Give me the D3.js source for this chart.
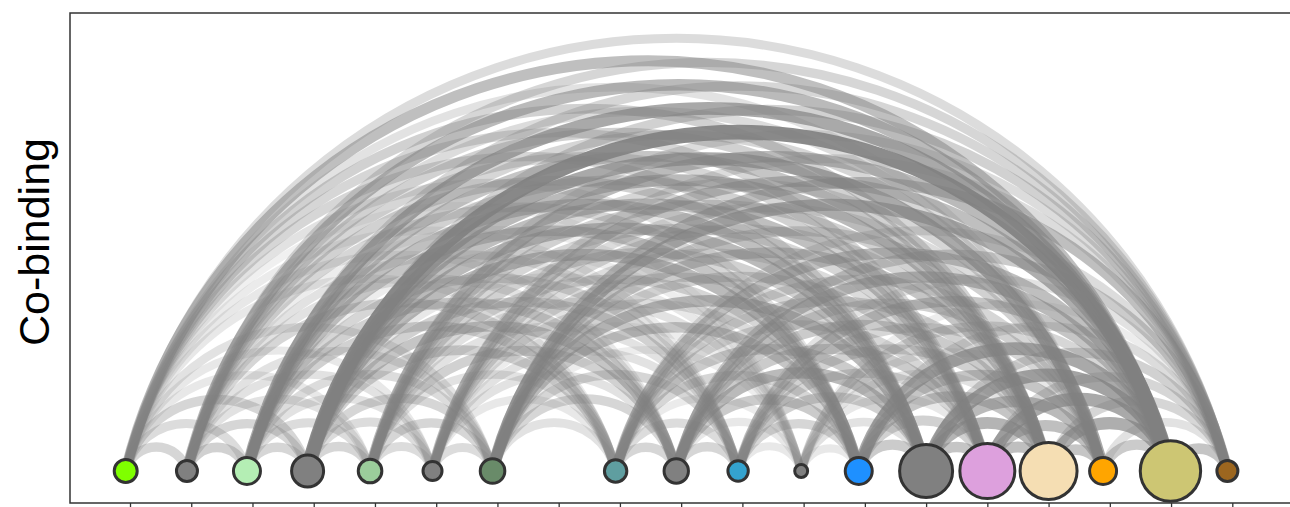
<!DOCTYPE html>
<html>
<head>
<meta charset="utf-8">
<script src="https://cdn.jsdelivr.net/npm/d3@7"></script>
<style>
  body { margin: 0; background: #fff; }
  svg { display: block; }
  .ylabel { font-family: "Liberation Sans", Arial, sans-serif; font-size: 43px; fill: #000; }
</style>
</head>
<body>
<svg id="chart"></svg>
<script>
// node positions (x in axis units), peak counts and colours
const nodePos = [-0.07, 0.93, 1.91, 2.9, 3.92, 4.94, 5.92, 7.93, 8.92, 9.93, 10.96, 11.9, 13.0, 14.0, 15.0, 15.89, 16.99, 17.92];
const nodeCount = [1450, 1210, 2000, 2810, 1530, 990, 1660, 1380, 1630, 1140, 460, 2000, 7700, 8290, 8900, 2000, 10000, 1210];
const nodeColor = ["#7fff00", "#808080", "#b4eeb4", "#808080", "#9bcd9b", "#808080", "#698b69", "#5f9ea0", "#808080",
  "#34a3cf", "#808080", "#1e90ff", "#808080", "#dda0dd", "#f5deb3", "#ffa500", "#cdc673", "#9c661f"];
const tickValues = d3.range(0, 19);

// co-binding strength, one row per source node (targets are the following nodes)
const coBinding = [
  [.30, .25, .30, .15, .15, .20, .15, .15, .12, .08, .20, .30, .30, .35, .20, .50, .25],
  [.35, .30, .20, .20, .20, .30, .20, .20, .10, .30, .35, .30, .35, .25, .55, .30],
  [.30, .25, .20, .25, .35, .35, .30, .10, .45, .50, .35, .45, .30, .70, .30],
  [.30, .25, .30, .35, .45, .35, .15, .55, .55, .50, .55, .70, .95, .35],
  [.25, .30, .20, .35, .20, .20, .30, .35, .30, .35, .30, .55, .25],
  [.25, .15, .20, .20, .10, .25, .30, .25, .30, .25, .50, .25],
  [.20, .30, .30, .10, .45, .55, .35, .45, .35, .65, .50],
  [.30, .25, .12, .30, .40, .30, .35, .30, .50, .25],
  [.30, .15, .40, .55, .40, .40, .35, .55, .40],
  [.15, .30, .35, .30, .35, .30, .45, .20],
  [.15, .20, .15, .20, .15, .30, .10],
  [.40, .35, .45, .45, .70, .25],
  [.45, .60, .55, .75, .35],
  [.50, .50, .70, .30],
  [.45, .65, .30],
  [.40, .20],
  [.45]
];

const W = 1290, H = 507;
const svg = d3.select('#chart').attr('width', W).attr('height', H);

const x = d3.scaleLinear().domain([0, 18]).range([130, 1232.3]);
// arc height in axis units per unit of half-span
const y = d3.scaleLinear().domain([0, 9]).range([471, 471 - 9 * 48.1]);
const r = d3.scaleSqrt().domain([0, 10000]).range([0, 30.2]);
const lw = d3.scaleLinear().domain([0, 1]).range([7, 15]);
const op = d3.scaleLinear().domain([0, 1]).range([0.05, 0.95]);

const links = [];
coBinding.forEach((row, i) => {
  row.forEach((v, k) => links.push({source: i, target: i + 1 + k, value: v}));
});
links.sort((a, b) => a.value - b.value);

// circular arc through both nodes with a sagitta taken from the y scale
function arcPath(d){
  const x1 = x(nodePos[d.source]), x2 = x(nodePos[d.target]);
  const half = (nodePos[d.target] - nodePos[d.source]) / 2;
  const a = (x2 - x1) / 2;
  const h = y(0) - y(half);
  const R = (a * a + h * h) / (2 * h);
  return `M${x1},${y(0)} A${R},${R} 0 0 1 ${x2},${y(0)}`;
}

// frame
svg.append('rect')
  .attr('x', 70).attr('y', 13)
  .attr('width', 1230).attr('height', 490)
  .attr('fill', 'none').attr('stroke', '#333').attr('stroke-width', 1.5);

svg.append('g')
  .attr('transform', 'translate(0,503)')
  .call(d3.axisBottom(x).tickValues(tickValues).tickFormat('').tickSize(5).tickSizeOuter(0))
  .call(g => g.select('.domain').remove())
  .call(g => g.selectAll('line').attr('stroke', '#333').attr('stroke-width', 1.3));

svg.append('g')
  .selectAll('path')
  .data(links)
  .join('path')
    .attr('d', arcPath)
    .attr('fill', 'none')
    .attr('stroke', '#808080')
    .attr('stroke-width', d => lw(d.value))
    .attr('stroke-opacity', d => op(d.value));

svg.append('g')
  .selectAll('circle')
  .data(nodePos)
  .join('circle')
    .attr('cx', d => x(d))
    .attr('cy', y(0))
    .attr('r', (d, i) => r(nodeCount[i]))
    .attr('fill', (d, i) => nodeColor[i])
    .attr('stroke', '#333')
    .attr('stroke-width', 3);

svg.append('text')
  .attr('class', 'ylabel')
  .attr('transform', 'translate(49,242) rotate(-90)')
  .attr('text-anchor', 'middle')
  .text('Co-binding');
</script>
</body>
</html>
